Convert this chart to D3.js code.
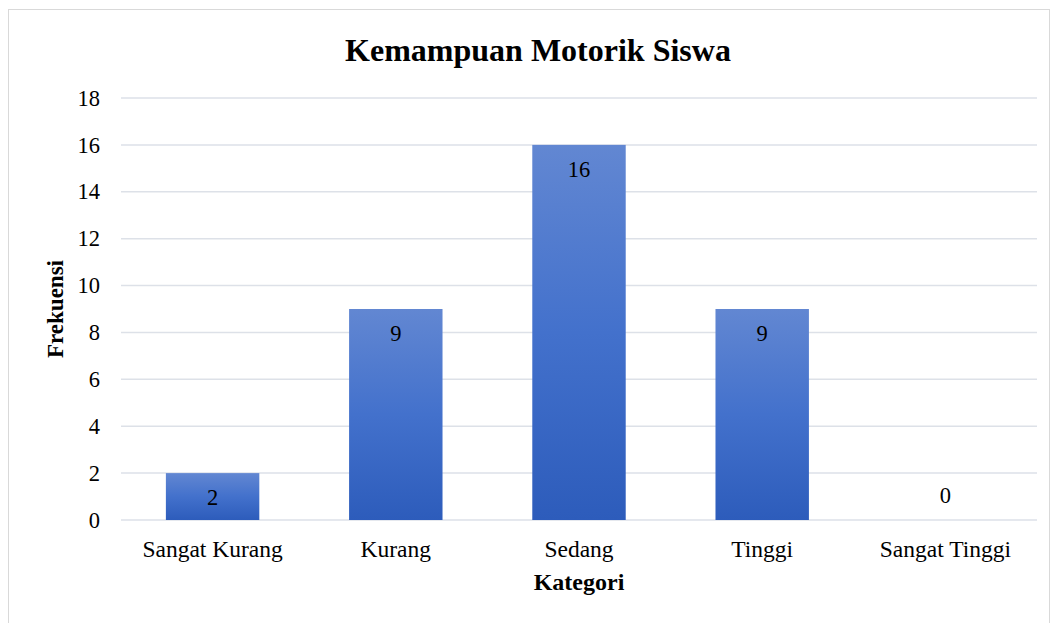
<!DOCTYPE html>
<html>
<head>
<meta charset="utf-8">
<script src="https://cdn.jsdelivr.net/npm/d3@7"></script>
<style>
  body { margin: 0; background: #fff; }
  text { font-family: "Liberation Serif", "Times New Roman", serif; fill: #000; }
</style>
</head>
<body>
<div id="root"></div>
<script>
const categories = ["Sangat Kurang", "Kurang", "Sedang", "Tinggi", "Sangat Tinggi"];
const frequencies = [2, 9, 16, 9, 0];
const yTicks = [0, 2, 4, 6, 8, 10, 12, 14, 16, 18];

const width = 1058,
  height = 623,
  margins = { top: 98, right: 21, bottom: 103, left: 121 };

const innerW = width - margins.left - margins.right,
  innerH = height - margins.top - margins.bottom;

const svg = d3.select("#root").append("svg")
  .attr("width", width)
  .attr("height", height)
  .attr("viewBox", [0, 0, width, height]);

// per-bar gradient, lighter at top
const grad = svg.append("defs").append("linearGradient")
  .attr("id", "barGrad")
  .attr("x1", 0).attr("y1", 0).attr("x2", 0).attr("y2", 1);
grad.append("stop").attr("offset", "0%").attr("stop-color", "#6287d2");
grad.append("stop").attr("offset", "50%").attr("stop-color", "#4371cc");
grad.append("stop").attr("offset", "100%").attr("stop-color", "#2d5cbb");

// chart border
svg.append("rect")
  .attr("x", 8.5).attr("y", 9.5)
  .attr("width", 1041).attr("height", 620)
  .attr("fill", "none")
  .attr("stroke", "#d9d9d9")
  .attr("stroke-width", 1);

const x = d3.scaleBand().domain(categories).range([0, innerW]).paddingInner(0.49).paddingOuter(0.245);
const y = d3.scaleLinear().domain([0, 18]).range([innerH, 0]);

const g = svg.append("g").attr("transform", `translate(${margins.left},${margins.top})`);

// gridlines
g.append("g")
  .selectAll("line")
  .data(yTicks)
  .join("line")
  .attr("x1", 0).attr("x2", innerW)
  .attr("y1", (d) => y(d)).attr("y2", (d) => y(d))
  .attr("stroke", "#dde1e8")
  .attr("stroke-width", 1.5);

// y axis labels
const yAxis = d3.axisLeft(y).tickValues(yTicks).tickSize(0).tickPadding(21);
g.append("g").call(yAxis)
  .call((s) => s.select(".domain").remove())
  .selectAll("text")
  .style("font-family", '"Liberation Serif", serif')
  .style("font-size", "22.5px")
  .attr("fill", "#000");

// x axis labels
const xAxis = d3.axisBottom(x).tickSize(0).tickPadding(20);
g.append("g").attr("transform", `translate(0,${innerH})`).call(xAxis)
  .call((s) => s.select(".domain").remove())
  .selectAll("text")
  .style("font-family", '"Liberation Serif", serif')
  .style("font-size", "23.5px")
  .attr("fill", "#000");

// bars
g.append("g")
  .selectAll("rect")
  .data(frequencies)
  .join("rect")
  .attr("x", (d, i) => x(categories[i]))
  .attr("y", (d) => y(d))
  .attr("width", x.bandwidth())
  .attr("height", (d) => innerH - y(d))
  .attr("fill", "url(#barGrad)");

// value labels
g.append("g")
  .selectAll("text")
  .data(frequencies)
  .join("text")
  .attr("x", (d, i) => x(categories[i]) + x.bandwidth() / 2)
  .attr("y", (d) => (d === 0 ? y(0) - 17 : y(d) + 32))
  .attr("text-anchor", "middle")
  .style("font-size", "22.5px")
  .text((d) => d);

// title
svg.append("text")
  .attr("x", 538).attr("y", 61)
  .attr("text-anchor", "middle")
  .style("font-size", "32px")
  .style("font-weight", "bold")
  .text("Kemampuan Motorik Siswa");

// axis titles
svg.append("text")
  .attr("x", 579).attr("y", 590)
  .attr("text-anchor", "middle")
  .style("font-size", "24px")
  .style("font-weight", "bold")
  .text("Kategori");

svg.append("text")
  .attr("transform", "translate(63,309) rotate(-90)")
  .attr("text-anchor", "middle")
  .style("font-size", "23px")
  .style("font-weight", "bold")
  .text("Frekuensi");
</script>
</body>
</html>
